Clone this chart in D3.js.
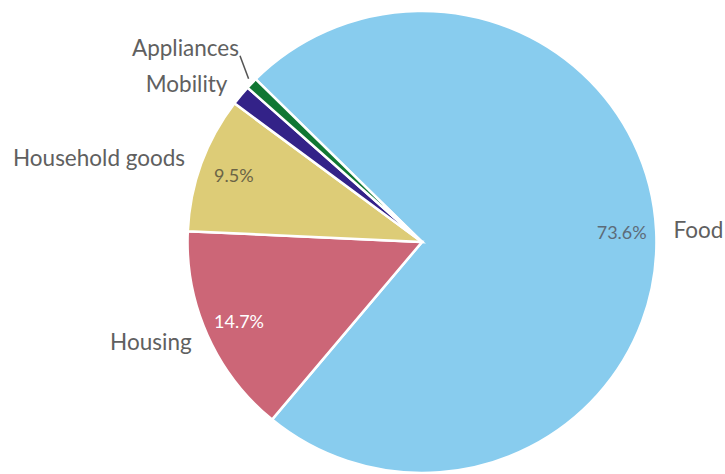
<!DOCTYPE html>
<html>
<head>
<meta charset="utf-8">
<script src="https://d3js.org/d3.v7.min.js"></script>
<style>
  html, body { margin: 0; padding: 0; background: #fff; }
  .lbl { font-family: Lato, "Open Sans", sans-serif; font-size: 22.5px; fill: #606060; }
  .pct { font-family: Lato, "Open Sans", sans-serif; font-size: 18px; }
</style>
</head>
<body>
<svg width="725" height="474"></svg>
<script>
// categories clockwise from the top-left edge of the Food slice
var categories = ["Food", "Housing", "Household goods", "Mobility", "Appliances"];
var shares = [73.6, 14.7, 9.5, 1.4, 0.8];
var pctLabels = ["73.6%", "14.7%", "9.5%", "", ""];
var colors = ["#88CCEE", "#CC6677", "#DDCC77", "#332288", "#117733"];
var pctColors = ["#5d6b78", "#ffffff", "#6b6446", "#fff", "#fff"];

var svg = d3.select("svg"),
    cx = 422, cy = 242,
    radius = 231,
    g = svg.append("g").attr("transform", "translate(" + cx + "," + cy + ") scale(1.015,1)");

var data = categories.map(function(c, i) { return {name: c, value: shares[i], i: i}; });

var pie = d3.pie()
    .sort(null)
    .startAngle(-45.2 * Math.PI / 180)
    .endAngle(314.8 * Math.PI / 180)
    .value(function(d) { return d.value; });

var arc = d3.arc().innerRadius(0).outerRadius(radius);
var inner = d3.arc().innerRadius(197).outerRadius(197);
var outer = d3.arc().innerRadius(248).outerRadius(248);

var arcs = pie(data);

g.selectAll("path")
  .data(arcs)
  .enter().append("path")
    .attr("d", arc)
    .attr("fill", function(d) { return colors[d.data.i]; })
    .attr("stroke", "#fff")
    .attr("stroke-width", 2.5);

g.selectAll("text.pct")
  .data(arcs)
  .enter().append("text")
    .attr("class", "pct")
    .attr("transform", function(d) { return "translate(" + inner.centroid(d) + ") scale(0.985,1)"; })
    .attr("dy", "0.35em")
    .attr("text-anchor", "middle")
    .attr("fill", function(d) { return pctColors[d.data.i]; })
    .text(function(d) { return pctLabels[d.data.i]; });

// outside category labels; Appliances is pushed up with a leader line
var lift = [0, 0, 0, 0, -24];

arcs.forEach(function(d) {
  var p = outer.centroid(d),
      mid = (d.startAngle + d.endAngle) / 2,
      right = Math.sin(mid) > 0,
      x = p[0] * 1.015, y = p[1] + lift[d.data.i];
  if (lift[d.data.i] !== 0) {
    var e = d3.arc().innerRadius(radius + 4).outerRadius(radius + 4).centroid(d);
    svg.append("line")
      .attr("x1", cx + e[0] * 1.015).attr("y1", cy + e[1] - 2)
      .attr("x2", cx + x + 1).attr("y2", cy + y + 8)
      .attr("stroke", "#555").attr("stroke-width", 1.5);
  }
  svg.append("text")
    .attr("class", "lbl")
    .attr("x", cx + x)
    .attr("y", cy + y)
    .attr("dy", "0.35em")
    .attr("text-anchor", right ? "start" : "end")
    .text(d.data.name);
});
</script>
</body>
</html>
